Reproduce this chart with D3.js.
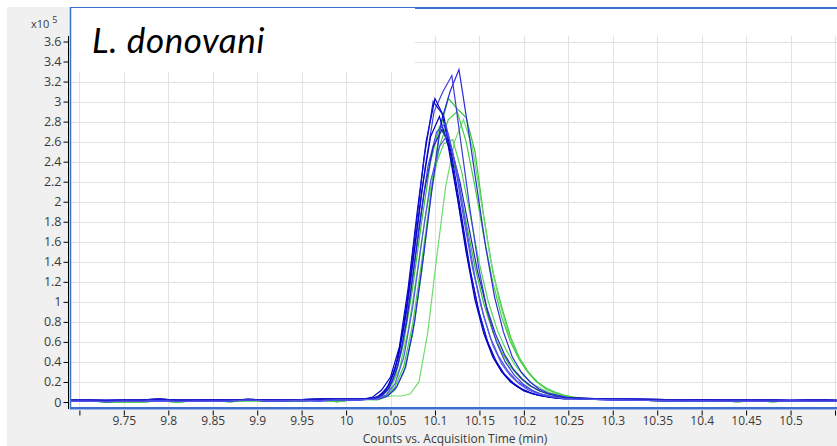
<!DOCTYPE html>
<html>
<head>
<meta charset="utf-8">
<script src="https://cdn.jsdelivr.net/npm/d3@7"></script>
<style>
  body { margin: 0; background: #fff; }
  svg { display: block; }
</style>
</head>
<body>
<div id="chart"></div>
<script>
/* Data (counts in units of 1e5, time in min) */
const xTicks = [9.7, 9.75, 9.8, 9.85, 9.9, 9.95, 10, 10.05, 10.1, 10.15, 10.2, 10.25, 10.3, 10.35, 10.4, 10.45, 10.5, 10.55];
const xTickLabels = ['', '9.75', '9.8', '9.85', '9.9', '9.95', '10', '10.05', '10.1', '10.15', '10.2', '10.25', '10.3', '10.35', '10.4', '10.45', '10.5', ''];
const yTicks = [0, 0.2, 0.4, 0.6, 0.8, 1, 1.2, 1.4, 1.6, 1.8, 2, 2.2, 2.4, 2.6, 2.8, 3, 3.2, 3.4, 3.6];
const yTickLabels = ['0', '0.2', '0.4', '0.6', '0.8', '1', '1.2', '1.4', '1.6', '1.8', '2', '2.2', '2.4', '2.6', '2.8', '3', '3.2', '3.4', '3.6'];

// baseline before the peak
const baseTimesLeft = [9.69, 9.71, 9.73, 9.75, 9.77, 9.79, 9.81, 9.83, 9.85, 9.87, 9.89, 9.91, 9.93, 9.95, 9.97, 9.99, 10.01];
const blueBaseLeftA = [0.02, 0.018, 0.016, 0.018, 0.022, 0.03, 0.018, 0.02, 0.022, 0.02, 0.026, 0.022, 0.024, 0.025, 0.03, 0.034, 0.035];
const blueBaseLeftB = [0.008, 0.01, 0.004, 0.008, 0.006, 0.012, 0.006, 0.01, 0.008, 0.012, 0.02, 0.012, 0.012, 0.016, 0.012, 0.02, 0.018];
const greenBaseLeft = [0.012, 0.01, 0.0, 0.0, 0.002, 0.012, 0.0, 0.01, 0.012, 0.004, 0.015, 0.012, 0.006, 0.012, 0.02, 0.004, 0.025];

// baseline after the peak
const baseTimesRight = [10.26, 10.28, 10.3, 10.32, 10.34, 10.36, 10.38, 10.4, 10.42, 10.44, 10.46, 10.48, 10.5, 10.52, 10.54, 10.56];
const blueBaseRightA = [0.04, 0.034, 0.03, 0.028, 0.026, 0.024, 0.024, 0.022, 0.02, 0.02, 0.02, 0.018, 0.016, 0.02, 0.018, 0.016];
const blueBaseRightB = [0.03, 0.026, 0.022, 0.018, 0.015, 0.012, 0.01, 0.012, 0.01, 0.008, 0.008, 0.01, 0.012, 0.008, 0.01, 0.009];
const greenBaseRight = [0.04, 0.03, 0.025, 0.02, 0.015, 0.012, 0.01, 0.014, 0.01, 0.004, 0.012, 0.004, 0.01, 0.012, 0.008, 0.012];

// peak scans, one every 0.01 min from the start time
const scanStep = 0.01;
const blueStarts = [10.037, 10.029, 10.02, 10.028, 10.025, 10.032, 10.028, 10.035];
const blue1 = [0.03, 0.06, 0.15, 0.35, 0.8, 1.45, 2.15, 2.8, 3.1, 3.32, 2.75, 2.15, 1.55, 1.05, 0.7, 0.45, 0.3, 0.2, 0.13, 0.09, 0.07, 0.05, 0.04, 0.035, 0.03];
const blue2 = [0.03, 0.07, 0.18, 0.45, 0.95, 1.65, 2.35, 2.9, 3.1, 3.26, 2.6, 1.95, 1.35, 0.9, 0.6, 0.4, 0.27, 0.18, 0.12, 0.08, 0.06, 0.05, 0.04, 0.03];
const blue3 = [0.03, 0.05, 0.12, 0.25, 0.55, 1.15, 1.9, 2.6, 3.03, 2.85, 2.4, 1.85, 1.3, 0.88, 0.58, 0.38, 0.25, 0.17, 0.11, 0.08, 0.06, 0.045, 0.035];
const blue4 = [0.03, 0.06, 0.16, 0.42, 0.95, 1.7, 2.45, 3.0, 2.88, 2.45, 1.9, 1.38, 0.95, 0.63, 0.42, 0.28, 0.19, 0.13, 0.09, 0.065, 0.05, 0.04, 0.03];
const blue5 = [0.03, 0.05, 0.12, 0.32, 0.75, 1.4, 2.1, 2.65, 2.85, 2.55, 2.05, 1.5, 1.02, 0.68, 0.45, 0.3, 0.2, 0.14, 0.1, 0.07, 0.055, 0.04, 0.03];
const blue6 = [0.03, 0.07, 0.2, 0.5, 1.05, 1.75, 2.35, 2.7, 2.78, 2.4, 1.85, 1.35, 0.95, 0.65, 0.45, 0.31, 0.21, 0.15, 0.1, 0.075, 0.055, 0.04, 0.03];
const blue7 = [0.03, 0.05, 0.13, 0.35, 0.8, 1.45, 2.1, 2.55, 2.72, 2.55, 2.2, 1.75, 1.3, 0.95, 0.68, 0.48, 0.33, 0.23, 0.16, 0.11, 0.08, 0.06, 0.045, 0.035, 0.03];
const blue8 = [0.03, 0.07, 0.18, 0.45, 0.95, 1.6, 2.2, 2.55, 2.68, 2.3, 1.75, 1.25, 0.85, 0.57, 0.38, 0.26, 0.18, 0.12, 0.085, 0.06, 0.045, 0.035];

const greenStarts = [10.035, 10.042, 10.025, 10.03, 10.035];
const green1 = [0.02, 0.05, 0.12, 0.3, 0.68, 1.3, 2.05, 2.7, 3.03, 2.93, 2.84, 2.5, 1.85, 1.3, 0.95, 0.65, 0.44, 0.3, 0.2, 0.13, 0.09, 0.065, 0.048, 0.036];
const green2 = [0.05, 0.06, 0.06, 0.08, 0.2, 0.7, 1.45, 2.15, 2.6, 2.82, 2.55, 2.0, 1.45, 1.02, 0.7, 0.48, 0.33, 0.22, 0.15, 0.1, 0.07, 0.05, 0.04];
const green3 = [0.03, 0.05, 0.1, 0.25, 0.6, 1.15, 1.8, 2.4, 2.75, 2.6, 2.25, 1.8, 1.35, 0.98, 0.7, 0.5, 0.35, 0.25, 0.17, 0.12, 0.085, 0.06, 0.045, 0.035];
const green4 = [0.03, 0.06, 0.14, 0.33, 0.72, 1.3, 1.9, 2.35, 2.58, 2.62, 2.3, 1.85, 1.38, 1.0, 0.72, 0.52, 0.37, 0.26, 0.18, 0.13, 0.09, 0.065, 0.05, 0.04];
const green5 = [0.03, 0.06, 0.15, 0.36, 0.78, 1.4, 2.05, 2.55, 2.82, 2.9, 2.6, 2.15, 1.65, 1.2, 0.85, 0.6, 0.42, 0.29, 0.2, 0.14, 0.1, 0.07, 0.05, 0.04, 0.035];

const blueColors = ['#2a2ae0', '#3c3cdc', '#0000cc', '#1212d4', '#0000c0', '#4a4ae4', '#2020c8', '#5555e8'];
const greenColors = ['#33c433', '#6fdc6f', '#2fbf2f', '#55d455', '#44cc44'];

/* Build the series */
const toPoints = (times, vals) => times.map((t, i) => [t, vals[i]]);
const buildTrace = (start, peak, leftVals, rightVals) => {
  const peakPts = peak.map((v, i) => [start + i * scanStep, v]);
  const end = peakPts[peakPts.length - 1][0];
  const left = toPoints(baseTimesLeft, leftVals).filter((d) => d[0] < start - 0.004);
  const right = toPoints(baseTimesRight, rightVals).filter((d) => d[0] > end + 0.004);
  return left.concat(peakPts, right);
};

const bluePeaks = [blue1, blue2, blue3, blue4, blue5, blue6, blue7, blue8];
const greenPeaks = [green1, green2, green3, green4, green5];

const series = [];
greenPeaks.forEach((p, i) => {
  series.push({
    color: greenColors[i],
    points: buildTrace(greenStarts[i], p, greenBaseLeft, greenBaseRight),
  });
});
bluePeaks.forEach((p, i) => {
  series.push({
    color: blueColors[i],
    points: buildTrace(
      blueStarts[i],
      p,
      i % 2 ? blueBaseLeftB : blueBaseLeftA,
      i % 2 ? blueBaseRightB : blueBaseRightA
    ),
  });
});

/* Layout */
const width = 837,
  height = 446;
const plot = { left: 70, top: 7, right: 837, bottom: 409 };
const FONT = "'Open Sans', 'Segoe UI', sans-serif";
const TEXT = '#3a3a3a';

const x = d3.scaleLinear().domain([9.7, 10.55]).range([79.4, 835]);
const y = d3.scaleLinear().domain([0, 3.6]).range([402, 41.5]);

const svg = d3
  .select('#chart')
  .append('svg')
  .attr('width', width)
  .attr('height', height);

// Gray panel
svg
  .append('rect')
  .attr('x', 7)
  .attr('y', 7)
  .attr('width', width - 7)
  .attr('height', height - 7)
  .attr('fill', '#f0f0f0');

// Plot area
svg
  .append('rect')
  .attr('x', plot.left)
  .attr('y', plot.top)
  .attr('width', plot.right - plot.left)
  .attr('height', plot.bottom - plot.top)
  .attr('fill', '#fff');

// Grid
const grid = svg.append('g').attr('stroke', '#e2e2e2').attr('stroke-width', 1);
grid
  .selectAll('line.v')
  .data(xTicks)
  .join('line')
  .attr('class', 'v')
  .attr('x1', (d) => Math.round(x(d)) + 0.5)
  .attr('x2', (d) => Math.round(x(d)) + 0.5)
  .attr('y1', 36)
  .attr('y2', plot.bottom);
grid
  .selectAll('line.h')
  .data(yTicks.slice(1))
  .join('line')
  .attr('class', 'h')
  .attr('x1', plot.left)
  .attr('x2', plot.right)
  .attr('y1', (d) => Math.round(y(d)) + 0.5)
  .attr('y2', (d) => Math.round(y(d)) + 0.5);

// Title box
svg
  .append('rect')
  .attr('x', plot.left)
  .attr('y', plot.top)
  .attr('width', 415 - plot.left)
  .attr('height', 72 - plot.top)
  .attr('fill', '#fff');
svg
  .append('text')
  .attr('x', 92)
  .attr('y', 53)
  .attr('font-family', "Lato, 'Open Sans', sans-serif")
  .attr('font-style', 'italic')
  .attr('font-size', 35)
  .attr('letter-spacing', 0.6)
  .attr('fill', '#000')
  .text('L. donovani');

// Traces
svg
  .append('clipPath')
  .attr('id', 'clip')
  .append('rect')
  .attr('x', plot.left + 1)
  .attr('y', plot.top + 1)
  .attr('width', plot.right - plot.left)
  .attr('height', plot.bottom - plot.top - 2);

const line = d3
  .line()
  .x((d) => x(d[0]))
  .y((d) => y(d[1]));

svg
  .append('g')
  .attr('clip-path', 'url(#clip)')
  .selectAll('path')
  .data(series)
  .join('path')
  .attr('fill', 'none')
  .attr('stroke', (d) => d.color)
  .attr('stroke-width', 1.2)
  .attr('stroke-linejoin', 'miter')
  .attr('d', (d) => line(d.points));

// Plot border
const BORDER = '#3a6fd0';
svg
  .append('line')
  .attr('x1', plot.left)
  .attr('x2', plot.right)
  .attr('y1', 7.5)
  .attr('y2', 7.5)
  .attr('stroke', BORDER)
  .attr('stroke-width', 1);
svg
  .append('line')
  .attr('x1', 415)
  .attr('x2', plot.right)
  .attr('y1', 8)
  .attr('y2', 8)
  .attr('stroke', BORDER)
  .attr('stroke-width', 2);
svg
  .append('line')
  .attr('x1', 70.5)
  .attr('x2', 70.5)
  .attr('y1', 7)
  .attr('y2', 410)
  .attr('stroke', BORDER)
  .attr('stroke-width', 1.5);
svg
  .append('line')
  .attr('x1', plot.left)
  .attr('x2', plot.right)
  .attr('y1', 408)
  .attr('y2', 408)
  .attr('stroke', BORDER)
  .attr('stroke-width', 2);
svg
  .append('line')
  .attr('x1', plot.left)
  .attr('x2', plot.right)
  .attr('y1', 409.5)
  .attr('y2', 409.5)
  .attr('stroke', '#9bb8ea')
  .attr('stroke-width', 1);

// Y axis
const yAxis = d3
  .axisLeft(y)
  .tickValues(yTicks)
  .tickSize(5)
  .tickPadding(2)
  .tickFormat((d, i) => yTickLabels[i]);
const yG = svg.append('g').attr('transform', 'translate(68.5,0)').call(yAxis);
yG.select('.domain').remove();
yG.append('line')
  .attr('y1', 36)
  .attr('y2', 409)
  .attr('stroke', '#000');
yG.selectAll('.tick line').attr('stroke', '#000');
yG.selectAll('.tick text')
  .attr('font-family', FONT)
  .attr('font-size', 12.5)
  .attr('fill', TEXT);

// Exponent label
const expo = svg
  .append('text')
  .attr('x', 31)
  .attr('y', 28)
  .attr('font-family', FONT)
  .attr('font-size', 11)
  .attr('fill', TEXT);
expo.append('tspan').text('x10');
expo.append('tspan').attr('dx', 3).attr('dy', -5).attr('font-size', 9).text('5');

// X axis
const xAxis = d3
  .axisBottom(x)
  .tickValues(xTicks)
  .tickSize(5)
  .tickPadding(1)
  .tickFormat((d, i) => xTickLabels[i]);
const xG = svg.append('g').attr('transform', 'translate(0,410.5)').call(xAxis);
xG.select('.domain').remove();
xG.selectAll('.tick line').attr('stroke', '#000');
xG.selectAll('.tick text')
  .attr('font-family', FONT)
  .attr('font-size', 12)
  .attr('fill', TEXT);

svg
  .append('text')
  .attr('x', 455)
  .attr('y', 443)
  .attr('text-anchor', 'middle')
  .attr('font-family', FONT)
  .attr('font-size', 12)
  .attr('fill', TEXT)
  .text('Counts vs. Acquisition Time (min)');
</script>
</body>
</html>
